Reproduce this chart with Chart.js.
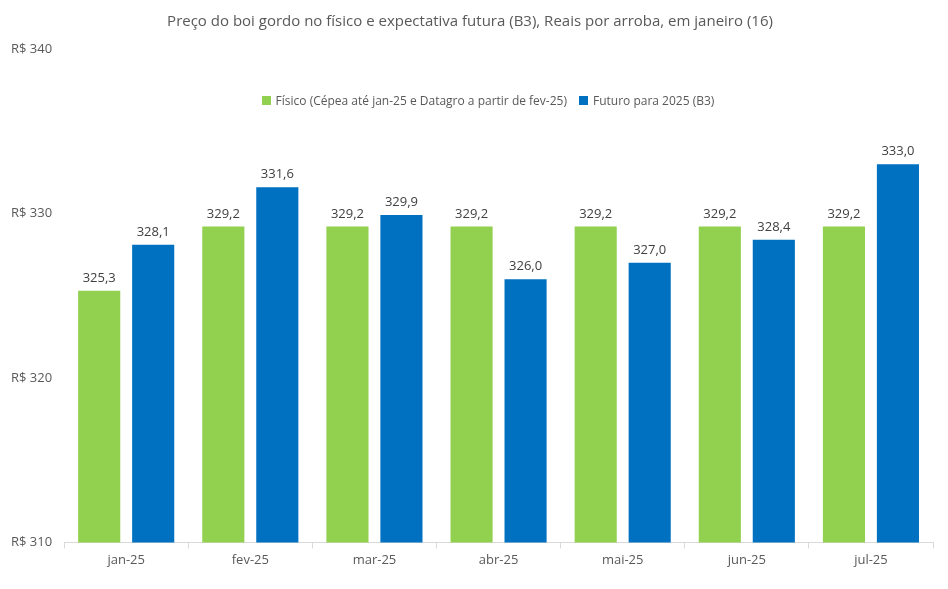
<!DOCTYPE html>
<html>
<head>
<meta charset="utf-8">
<script src="https://cdn.jsdelivr.net/npm/chart.js@4"></script>
<style>
  html, body { margin: 0; padding: 0; background: #fff; }
  #wrap { position: relative; width: 948px; height: 589px; }
  #legend {
    position: absolute; left: 28px; right: 0; top: 92px;
    text-align: center; font: 12px 'Open Sans', 'Noto Sans', sans-serif; color: #595959;
  }
  #legend span.item { margin: 0 6px; white-space: nowrap; }
  #legend span.box { display: inline-block; width: 9px; height: 9px; margin-right: 5px; }
</style>
</head>
<body>
<div id="wrap">
  <canvas id="myChart" width="948" height="589"></canvas>
  <div id="legend"></div>
</div>
<script>
'use strict';

let months = ['jan-25', 'fev-25', 'mar-25', 'abr-25', 'mai-25', 'jun-25', 'jul-25'];
let fisico = [325.3, 329.2, 329.2, 329.2, 329.2, 329.2, 329.2];
let futuro = [328.1, 331.6, 329.9, 326.0, 327.0, 328.4, 333.0];
let yTicks = [310, 320, 330, 340];

let fontName = "'Open Sans', 'Noto Sans', sans-serif";
let grey = '#595959';

// labels over each bar, with decimal comma
let barLabels = {
    id: 'barLabels',
    afterDatasetsDraw(chart) {
        let ctx = chart.ctx;
        ctx.save();
        ctx.font = '13px ' + fontName;
        ctx.fillStyle = '#404040';
        ctx.textAlign = 'center';
        ctx.textBaseline = 'bottom';
        chart.data.datasets.forEach((ds, i) => {
            chart.getDatasetMeta(i).data.forEach((bar, j) => {
                ctx.fillText(ds.data[j].toFixed(1).replace('.', ','), bar.x, bar.y - 6);
            });
        });
        ctx.restore();
    }
};

let ctx = document.getElementById('myChart').getContext('2d');
let myChart = new Chart(ctx, {
    type: 'bar',
    data: {
        labels: months,
        datasets: [{
            label: 'Físico (Cépea até jan-25 e Datagro a partir de fev-25)',
            data: fisico,
            backgroundColor: '#92d050'
        }, {
            label: 'Futuro para 2025 (B3)',
            data: futuro,
            backgroundColor: '#0070c0'
        }]
    },
    options: {
        responsive: false,
        animation: false,
        categoryPercentage: 0.87,
        barPercentage: 0.78,
        layout: { padding: { left: 7, right: 15, top: 0, bottom: 17 } },
        plugins: {
            title: {
                display: true,
                text: 'Preço do boi gordo no físico e expectativa futura (B3), Reais por arroba, em janeiro (16)',
                color: grey,
                font: { family: fontName, size: 15, weight: 'normal' },
                padding: { top: 13, bottom: 18 }
            },
            legend: { display: false },
            tooltip: { enabled: false }
        },
        scales: {
            x: {
                grid: { display: true, offset: true, drawOnChartArea: false, drawTicks: true, tickLength: 6, color: '#d9d9d9' },
                border: { display: true, color: '#d9d9d9' },
                ticks: { color: grey, font: { family: fontName, size: 13 }, padding: 4 }
            },
            y: {
                min: yTicks[0],
                max: yTicks[yTicks.length - 1],
                afterBuildTicks: (axis) => { axis.ticks = yTicks.map(v => ({ value: v })); },
                grid: { display: false },
                border: { display: false },
                ticks: {
                    color: grey,
                    font: { family: fontName, size: 13 },
                    padding: 4,
                    callback: (v) => 'R$ ' + v
                }
            }
        }
    },
    plugins: [barLabels]
});

// html legend built from the datasets
let legendEl = document.getElementById('legend');
myChart.data.datasets.forEach(ds => {
    let item = document.createElement('span');
    item.className = 'item';
    let box = document.createElement('span');
    box.className = 'box';
    box.style.background = ds.backgroundColor;
    item.appendChild(box);
    item.appendChild(document.createTextNode(ds.label));
    legendEl.appendChild(item);
});
</script>
</body>
</html>
